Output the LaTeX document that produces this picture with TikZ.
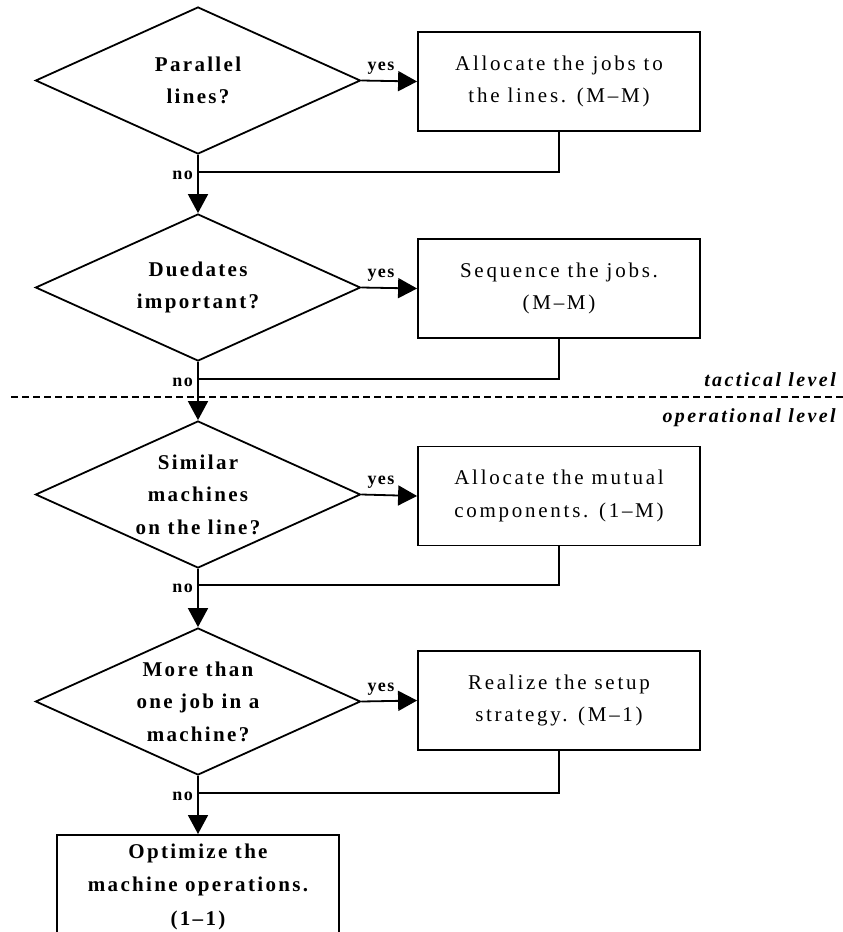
\documentclass[tikz,border=0pt]{standalone}
\usepackage{fontspec}
\setmainfont{Liberation Serif}
\newfontfamily\qfont{Liberation Serif}[LetterSpace=11]
\newfontfamily\afont{Liberation Serif}[LetterSpace=13]
\newfontfamily\tagfont{Liberation Serif}[LetterSpace=8]
\newfontfamily\levelfont{Liberation Serif}[LetterSpace=12]
\usetikzlibrary{shapes.geometric, arrows.meta}

\begin{document}
\begin{tikzpicture}[x=1pt, y=-1pt,
  decision/.style={diamond, draw, line width=1.8pt, minimum width=325pt,
    minimum height=147pt, inner sep=0pt},
  dtext/.style={inner sep=0pt, align=center,
    font=\qfont\bfseries\fontsize{21}{32.5}\selectfont},
  action/.style={rectangle, draw, line width=1.8pt, minimum width=282pt,
    minimum height=99pt, inner sep=0pt, align=center,
    font=\afont\fontsize{21}{32.5}\selectfont},
  finalbox/.style={action, minimum height=104pt, anchor=north,
    font=\qfont\bfseries\fontsize{21}{33.5}\selectfont},
  flow/.style={line width=1.8pt},
  arr/.style={flow, -{Triangle[length=19pt, width=20pt]}},
  tag/.style={inner sep=0pt, font=\tagfont\bfseries\fontsize{18}{20}\selectfont},
  level/.style={inner sep=0pt, anchor=east,
    font=\levelfont\bfseries\itshape\fontsize{20}{24}\selectfont}
]
\useasboundingbox (0,0) rectangle (843,932);
\fill[white] (0,0) rectangle (843,932);

% decisions on the left (outline and question set separately)
\node[decision] (d1) at (198,80.5)  {};
\node[decision] (d2) at (198,287.5) {};
\node[decision] (d3) at (198,494.5) {};
\node[decision] (d4) at (198,701.5) {};
\node[dtext] (q1) at (d1) {Parallel\\lines?};
\node[dtext] (q2) at (d2) {Duedates\\important?};
\node[dtext] (q3) at (d3) {Similar\\machines\\on the line?};
\node[dtext] (q4) at (d4) {More than\\one job in a\\machine?};

% actions on the right
\node[action] (b1) at (559,81.5)  {Allocate the jobs to\\the lines. (M–M)};
\node[action] (b2) at (559,288.5) {Sequence the jobs.\\(M–M)};
\node[action] (b3) at (559,496)   {Allocate the mutual\\components. (1–M)};
\node[action] (b4) at (559,700.5) {Realize the setup\\strategy. (M–1)};

\node[finalbox] (b5) at (198,834) {Optimize the\\machine operations.\\(1–1)};

% merge points on the main line
\coordinate (j1) at (198,172);
\coordinate (j2) at (198,379);
\coordinate (j3) at (198,585);
\coordinate (j4) at (198,793);

% separator between the two planning levels
\coordinate (sepL) at (11,397);
\coordinate (sepR) at (843,397);
\draw[flow, dash pattern=on 7pt off 4pt] (sepL) -- (sepR);
\node[level] (tact) at (836,380) {tactical level};
\node[level] (oper) at (836,418) {operational level};

% yes branches
\draw[arr] (d1.east) -- (b1.west);
\draw[arr] (d2.east) -- (b2.west);
\draw[arr] (d3.east) -- (b3.west);
\draw[arr] (d4.east) -- (b4.west);

% no branches
\draw[arr] (d1.south) -- (d2.north);
\draw[arr] (d2.south) -- (d3.north);
\draw[arr] (d3.south) -- (d4.north);
\draw[arr] (d4.south) -- (b5.north);

% actions rejoin the main line
\draw[flow] (b1.south) |- (j1);
\draw[flow] (b2.south) |- (j2);
\draw[flow] (b3.south) |- (j3);
\draw[flow] (b4.south) |- (j4);

% branch labels
\node[tag] (y1) at (381,68)  {yes};
\node[tag] (y2) at (381,275) {yes};
\node[tag] (y3) at (381,482) {yes};
\node[tag] (y4) at (381,689) {yes};
\node[tag, anchor=east] (n1) at (193,175) {no};
\node[tag, anchor=east] (n2) at (193,382) {no};
\node[tag, anchor=east] (n3) at (193,588) {no};
\node[tag, anchor=east] (n4) at (193,796) {no};
\end{tikzpicture}
\end{document}
